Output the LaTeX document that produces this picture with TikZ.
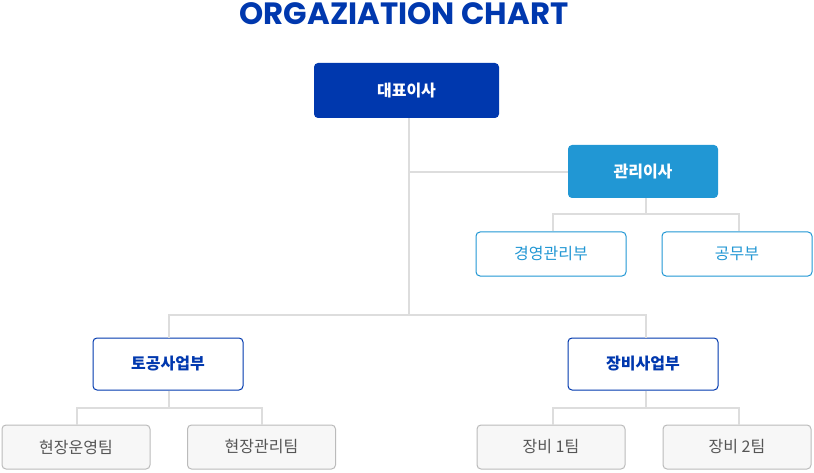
\documentclass[tikz,border=0pt]{standalone}
\usepackage{fontspec}
\setmainfont{Poppins}
\newfontfamily\kr{Noto Sans CJK KR}
\definecolor{navy}{HTML}{0038AE}
\definecolor{sky}{HTML}{2197D4}
\definecolor{linegray}{HTML}{DDDDDD}
\definecolor{boxgray}{HTML}{BBBBBB}
\definecolor{fillgray}{HTML}{F7F7F7}
\definecolor{txtgray}{HTML}{555555}
\begin{document}
\begin{tikzpicture}[x=1pt,y=-1pt,
  box/.style={rounded corners=4pt,minimum height=#1,inner sep=0pt,anchor=center},
  ceo/.style={box=55pt,minimum width=185pt,fill=navy,text=white,font=\kr\bfseries\fontsize{16}{19}\selectfont},
  dir/.style={box=53pt,minimum width=150pt,fill=sky,text=white,font=\kr\bfseries\fontsize{16}{19}\selectfont},
  sub/.style={box=44pt,minimum width=150pt,fill=white,draw=sky,line width=1pt,text=sky,font=\kr\fontsize{16}{19}\selectfont},
  div/.style={box=52pt,minimum width=150pt,fill=white,draw=navy,line width=1pt,text=navy,font=\kr\bfseries\fontsize{16}{19}\selectfont},
  team/.style={box=44pt,minimum width=148pt,fill=fillgray,draw=boxgray,line width=1pt,text=txtgray,font=\kr\fontsize{16}{19}\selectfont},
  conn/.style={draw=linegray,line width=2pt}]
\useasboundingbox (0,0) rectangle (814,473);
\node[text=navy,font=\bfseries\fontsize{30.8}{34}\selectfont] (title) at (404,14) {ORGAZIATION CHART};
\coordinate (j1) at (409,315);
\coordinate (j2) at (409,172);
\coordinate (mgr) at (646,214);
\coordinate (tb) at (169,408);
\coordinate (eb) at (646,408);
\node[ceo] (ceo) at (406.5,90.5) {대표이사};
\node[dir] (dir) at (643,171.5) {관리이사};
\node[sub] (s1) at (551,254) {경영관리부};
\node[sub] (s2) at (737,254) {공무부};
\node[div] (d1) at (168,364) {토공사업부};
\node[div] (d2) at (643,364) {장비사업부};
\node[team] (t1) at (76,447) {현장운영팀};
\node[team] (t2) at (261.5,447) {현장관리팀};
\node[team] (t3) at (551,447) {장비 1팀};
\node[team] (t4) at (737,447) {장비 2팀};
\path[conn] (ceo.south -| j1) -- (j1);
\path[conn] (j2) -- (dir.west |- j2);
\path[conn] (dir.south -| mgr) -- (mgr);
\path[conn] (s1.north -| 553,0) |- (mgr) -| (s2.north -| 739,0);
\path[conn] (d1.north -| 169,0) |- (j1) -| (d2.north -| 646,0);
\path[conn] (d1.south -| tb) -- (tb);
\path[conn] (t1.north -| 77,0) |- (tb) -| (t2.north -| 262,0);
\path[conn] (d2.south -| eb) -- (eb);
\path[conn] (t3.north -| 553,0) |- (eb) -| (t4.north -| 739,0);
\end{tikzpicture}
\end{document}
